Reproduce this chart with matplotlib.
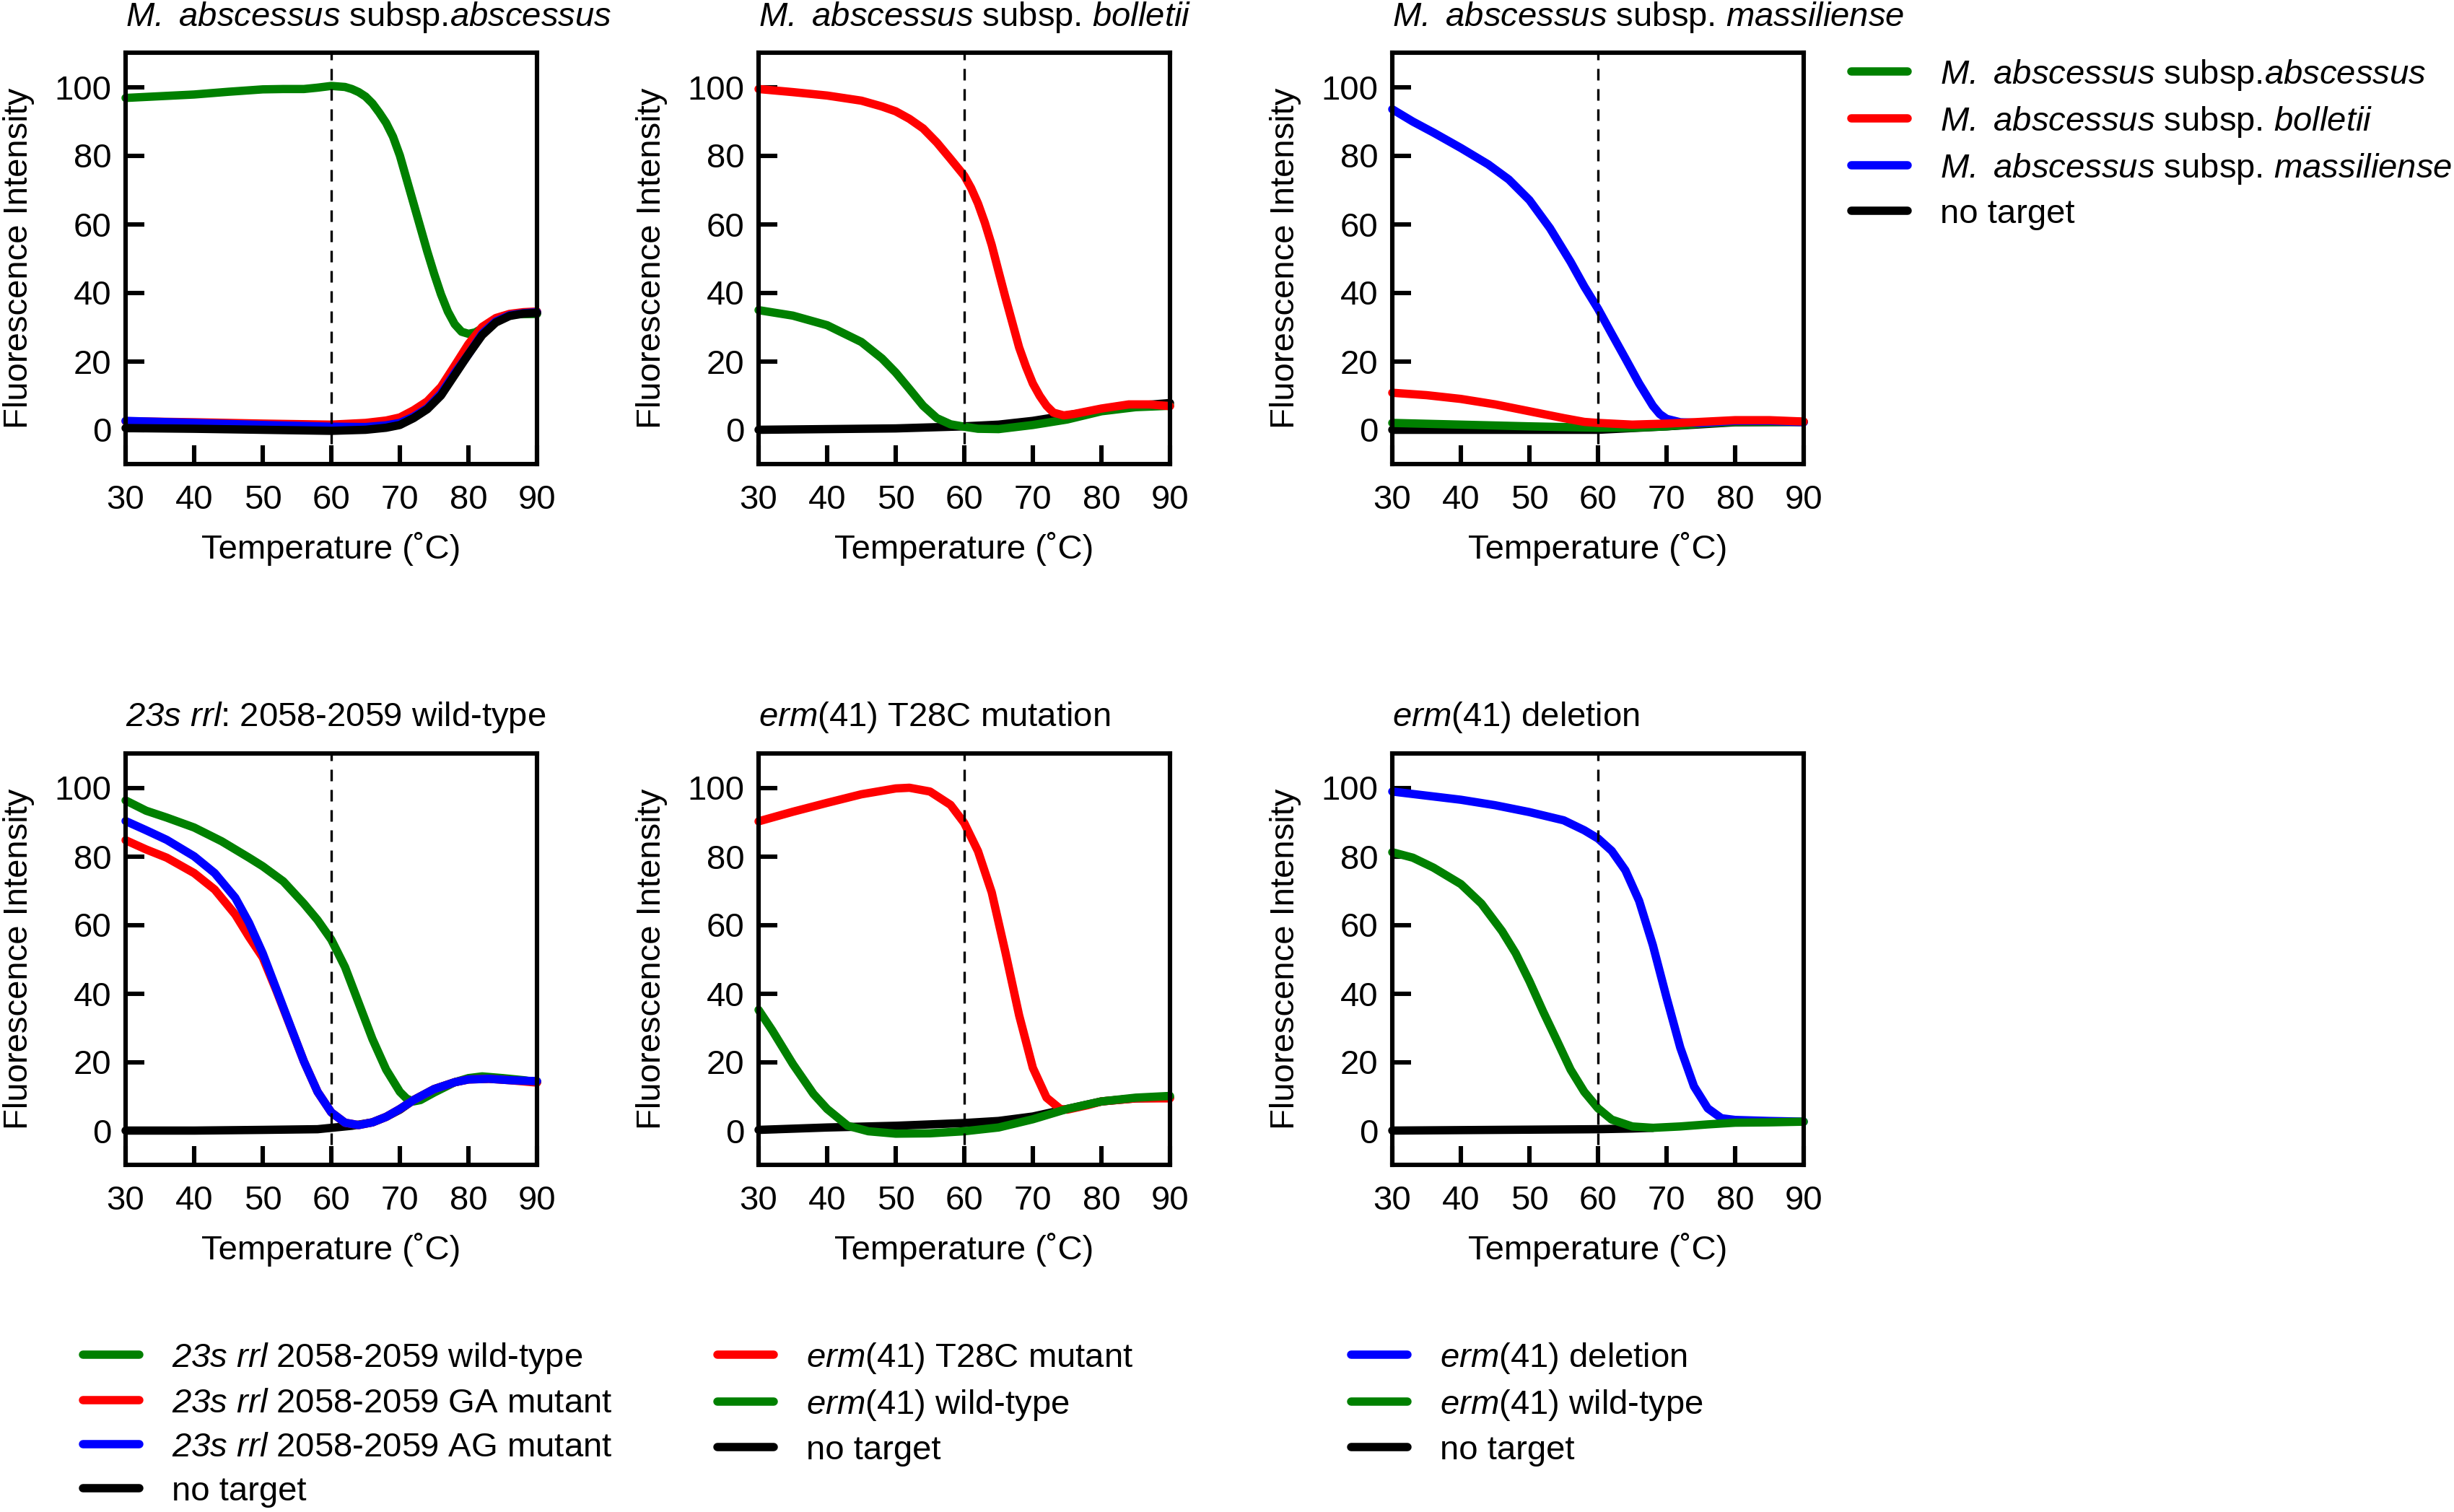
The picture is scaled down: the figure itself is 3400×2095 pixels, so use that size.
import matplotlib
matplotlib.use('Agg')
from matplotlib import pyplot as plt
from matplotlib.lines import Line2D

plt.rcParams['font.family'] = ['Liberation Sans', 'DejaVu Sans']
plt.rcParams['mathtext.fontset'] = 'custom'
# italic for everything inside $...$ (digits included), plain text stays upright
plt.rcParams['mathtext.rm'] = 'Liberation Sans:italic'
plt.rcParams['mathtext.it'] = 'Liberation Sans:italic'
plt.rcParams['font.size'] = 34
plt.rcParams['axes.titlesize'] = 34

GREEN = '#008000'
RED = '#ff0000'
BLUE = '#0000ff'
BLACK = '#000000'

# --- panel 1: M. abscessus subsp. abscessus
p1_green_t = [30, 35, 40, 45, 50, 53, 56, 58, 60, 62, 63, 64, 65, 66, 67, 68, 69, 70, 71, 72, 73, 74, 75, 76, 77, 78, 79, 80, 81, 82, 83, 85, 87, 90]
p1_green = [96.8, 97.3, 97.8, 98.6, 99.3, 99.4, 99.4, 99.8, 100.3, 100, 99.4, 98.5, 97.2, 95.2, 92.5, 89.5, 85.5, 80, 73, 66, 59, 52, 45.5, 39.5, 34.5, 30.8, 28.6, 28, 28.4, 29.6, 31, 33.1, 33.7, 33.8]
p1_red_t = [30, 40, 50, 60, 65, 68, 70, 72, 74, 76, 78, 80, 82, 84, 86, 88, 90]
p1_red = [2.5, 2.2, 1.8, 1.5, 2, 2.7, 3.6, 5.7, 8.3, 12.5, 18.7, 25, 30, 32.6, 33.8, 34.3, 34.5]
p1_blue_t = [30, 40, 50, 60, 65, 68, 70, 72, 74, 76, 78, 80, 82, 84, 86, 88, 90]
p1_blue = [2.6, 2.0, 1.4, 0.9, 0.8, 1.3, 2.0, 3.8, 6.3, 10.5, 16.5, 22, 28, 31.6, 33.4, 34.0, 34.3]
p1_black_t = [30, 40, 50, 60, 65, 68, 70, 72, 74, 76, 78, 80, 82, 84, 86, 88, 90]
p1_black = [0.5, 0.3, 0, -0.3, 0, 0.6, 1.4, 3.4, 6, 10, 16, 22, 27.6, 31.3, 33.2, 33.9, 34.1]

# --- panel 2: M. abscessus subsp. bolletii
p2_red_t = [30, 35, 40, 45, 48, 50, 52, 54, 56, 58, 60, 61, 62, 63, 64, 65, 66, 67, 68, 69, 70, 71, 72, 73, 74.5, 76, 78, 80, 84, 87, 90]
p2_red = [99.4, 98.5, 97.5, 96, 94.3, 92.9, 90.7, 87.9, 83.8, 79, 74.1, 70.5, 66, 60.4, 53.9, 46.2, 38.6, 31.3, 24, 18.4, 13.5, 9.9, 7, 5, 4.2, 4.6, 5.4, 6.2, 7.4, 7.4, 6.9]
p2_green_t = [30, 35, 40, 45, 48, 50, 52, 54, 56, 58, 60, 62, 65, 70, 75, 80, 85, 90]
p2_green = [34.9, 33.3, 30.5, 25.6, 20.8, 16.7, 11.9, 7, 3.4, 1.6, 0.9, 0.3, 0.2, 1.4, 3, 5.4, 6.6, 7]
p2_black_t = [30, 40, 50, 60, 65, 70, 75, 80, 85, 90]
p2_black = [0, 0.2, 0.4, 1, 1.5, 2.6, 4.2, 5.8, 7, 7.8]

# --- panel 3: M. abscessus subsp. massiliense
p3_blue_t = [30, 33, 36, 40, 44, 47, 50, 53, 56, 58, 60, 62, 64, 66, 68, 69, 70, 72, 75, 80, 85, 90]
p3_blue = [93.5, 89.9, 86.7, 82.2, 77.4, 73, 67, 58.8, 49, 41.8, 35.3, 28, 20.8, 13.5, 7, 4.6, 3.2, 2.2, 2, 2.6, 2.6, 2.2]
p3_red_t = [30, 35, 40, 45, 50, 55, 58, 60, 65, 70, 75, 80, 85, 90]
p3_red = [10.8, 10.1, 9, 7.4, 5.4, 3.4, 2.3, 2, 1.5, 1.8, 2.3, 2.8, 2.8, 2.4]
p3_green_t = [30, 40, 50, 60, 65, 70, 75, 80, 90]
p3_green = [2, 1.5, 1, 0.6, 0.6, 1, 1.8, 2.3, 2.3]
p3_black_t = [30, 50, 60, 70, 80, 90]
p3_black = [0, 0, 0, 1, 2.2, 2.3]

# --- panel 4: 23s rrl 2058-2059
p4_green_t = [30, 33, 36, 40, 44, 48, 50, 53, 56, 58, 60, 62, 64, 66, 68, 70, 71, 72, 73, 75, 78, 80, 82, 85, 88, 90]
p4_green = [96.3, 93.3, 91.3, 88.4, 84.4, 79.6, 77.1, 72.7, 66.2, 61.4, 55.7, 47.7, 37.2, 26.7, 17.8, 11.3, 9.3, 8.5, 8.9, 11.1, 14.1, 15.3, 15.8, 15.3, 14.7, 14.1]
p4_red_t = [30, 33, 36, 40, 43, 46, 48, 50, 52, 54, 56, 58, 60, 62, 64, 66, 68, 70, 72, 75, 78, 80, 83, 86, 90]
p4_red = [84.7, 82, 79.6, 75.1, 70.3, 63, 56.5, 50.5, 40.8, 30.5, 20.2, 11.3, 5.3, 2.3, 1.6, 2.4, 4, 6.3, 8.9, 12.1, 14.1, 14.9, 15.1, 14.7, 14.0]
p4_blue_t = [30, 33, 36, 40, 43, 46, 48, 50, 52, 54, 56, 58, 60, 62, 64, 66, 68, 70, 72, 75, 78, 80, 83, 86, 90]
p4_blue = [90.3, 87.6, 84.8, 80, 75.1, 67.9, 60.6, 51.7, 41.2, 30.7, 20.2, 11.3, 5.3, 2.3, 1.6, 2.4, 4, 6.3, 8.9, 12.1, 14.1, 14.9, 15.1, 14.7, 14.4]
p4_black_t = [30, 40, 50, 58, 60, 63, 66, 68, 70, 72, 75, 78, 80, 83, 86, 90]
p4_black = [0, 0, 0.2, 0.4, 0.8, 1.4, 2.4, 4, 6.1, 8.9, 12.1, 14.1, 15, 15.2, 14.8, 14.3]

# --- panel 5: erm(41) T28C
p5_red_t = [30, 35, 40, 45, 50, 52, 55, 58, 60, 62, 64, 66, 68, 70, 72, 74, 75, 78, 80, 85, 90]
p5_red = [90.2, 93, 95.6, 98.1, 99.8, 100, 98.9, 95, 89.7, 81.5, 69.5, 52, 33.6, 18.3, 9.6, 6.3, 6.1, 7.4, 8.5, 9.4, 9.4]
p5_green_t = [30, 32, 35, 38, 40, 43, 46, 50, 55, 60, 65, 70, 75, 80, 85, 90]
p5_green = [35.2, 29.2, 19.4, 10.7, 6.3, 1.4, -0.2, -0.9, -0.8, -0.2, 0.9, 3.3, 6.3, 8.5, 9.6, 10.1]
p5_black_t = [30, 40, 50, 60, 65, 70, 75, 80, 85, 90]
p5_black = [0.2, 0.9, 1.4, 2.2, 2.8, 4.1, 6.3, 8.5, 9.4, 9.6]

# --- panel 6: erm(41) deletion
p6_blue_t = [30, 35, 40, 45, 50, 55, 58, 60, 62, 64, 66, 68, 70, 72, 74, 76, 78, 80, 85, 90]
p6_blue = [98.9, 97.7, 96.5, 94.9, 92.9, 90.5, 87.6, 85.2, 81.6, 75.9, 67, 54.1, 38.8, 24.2, 12.9, 6.5, 3.6, 3.1, 2.8, 2.6]
p6_green_t = [30, 33, 36, 40, 43, 46, 48, 50, 52, 54, 56, 58, 60, 62, 65, 68, 72, 76, 80, 85, 90]
p6_green = [81.2, 79.6, 76.7, 71.9, 66.2, 58.2, 51.7, 43.6, 34.7, 26.3, 17.8, 11.3, 6.5, 3.2, 1.2, 0.8, 1.2, 1.8, 2.3, 2.4, 2.6]
p6_black_t = [30, 60, 65, 68]
p6_black = [0, 0.4, 0.6, 0.8]

titles = [
    r'$M.\ abscessus$ subsp.$abscessus$',
    r'$M.\ abscessus$ subsp. $bolletii$',
    r'$M.\ abscessus$ subsp. $massiliense$',
    r'$23s\ rrl$: 2058-2059 wild-type',
    r'$erm$(41) T28C mutation',
    r'$erm$(41) deletion',
]

legend_top = [
    (GREEN, r'$M.\ abscessus$ subsp.$abscessus$'),
    (RED, r'$M.\ abscessus$ subsp. $bolletii$'),
    (BLUE, r'$M.\ abscessus$ subsp. $massiliense$'),
    (BLACK, 'no target'),
]
legend_rrl = [
    (GREEN, r'$23s\ rrl$ 2058-2059 wild-type'),
    (RED, r'$23s\ rrl$ 2058-2059 GA mutant'),
    (BLUE, r'$23s\ rrl$ 2058-2059 AG mutant'),
    (BLACK, 'no target'),
]
legend_t28c = [
    (RED, r'$erm$(41) T28C mutant'),
    (GREEN, r'$erm$(41) wild-type'),
    (BLACK, 'no target'),
]
legend_del = [
    (BLUE, r'$erm$(41) deletion'),
    (GREEN, r'$erm$(41) wild-type'),
    (BLACK, 'no target'),
]

# draw order per panel (first drawn at the bottom)
panels = [
    [(p1_green_t, p1_green, GREEN), (p1_red_t, p1_red, RED), (p1_blue_t, p1_blue, BLUE), (p1_black_t, p1_black, BLACK)],
    [(p2_black_t, p2_black, BLACK), (p2_green_t, p2_green, GREEN), (p2_red_t, p2_red, RED)],
    [(p3_black_t, p3_black, BLACK), (p3_green_t, p3_green, GREEN), (p3_blue_t, p3_blue, BLUE), (p3_red_t, p3_red, RED)],
    [(p4_black_t, p4_black, BLACK), (p4_green_t, p4_green, GREEN), (p4_red_t, p4_red, RED), (p4_blue_t, p4_blue, BLUE)],
    [(p5_black_t, p5_black, BLACK), (p5_red_t, p5_red, RED), (p5_green_t, p5_green, GREEN)],
    [(p6_black_t, p6_black, BLACK), (p6_blue_t, p6_blue, BLUE), (p6_green_t, p6_green, GREEN)],
]

W, H = 3400.0, 2095.0
LW = 8.3
lefts = [174, 1051, 1929]
tops = [73, 1044]
size = 570

fig = plt.figure(figsize=(34, 20.95), dpi=100)

for i, series in enumerate(panels):
    row, col = divmod(i, 3)
    ax = fig.add_axes([lefts[col] / W, 1 - (tops[row] + size) / H, size / W, size / H])
    for t, y, c in series:
        ax.plot(t, y, color=c, lw=LW, solid_capstyle='round', solid_joinstyle='round', clip_on=False)
    ax.axvline(60, color='black', lw=2.4, ls=(0, (4.8, 3.6)))
    ax.set_xlim(30, 90)
    ax.set_ylim(-10, 110)
    ax.set_xticks(range(30, 91, 10))
    ax.set_yticks(range(0, 101, 20))
    ax.tick_params(direction='in', length=19, width=4.4)
    ax.tick_params(axis='x', pad=20)
    ax.tick_params(axis='y', pad=14)
    for s in ax.spines.values():
        s.set_linewidth(4.4)
    ax.set_title(titles[i], loc='left', pad=27)
    ax.set_xlabel('Temperature (˚C)', labelpad=16)
    ax.set_ylabel('Fluorescence Intensity', labelpad=20)


def add_legend(entries, x, y):
    handles = [Line2D([], [], color=c, lw=LW, solid_capstyle='round') for c, _ in entries]
    labels = [lab for _, lab in entries]
    fig.legend(handles, labels, loc='upper left', bbox_to_anchor=(x / W, 1 - y / H),
               frameon=False, borderpad=0, borderaxespad=0, handlelength=1.65,
               handletextpad=0.95, labelspacing=0.36)


add_legend(legend_top, 2565, 80)
add_legend(legend_rrl, 115, 1858)
add_legend(legend_t28c, 994, 1858)
add_legend(legend_del, 1872, 1858)

fig.savefig('out.png', dpi=100)
